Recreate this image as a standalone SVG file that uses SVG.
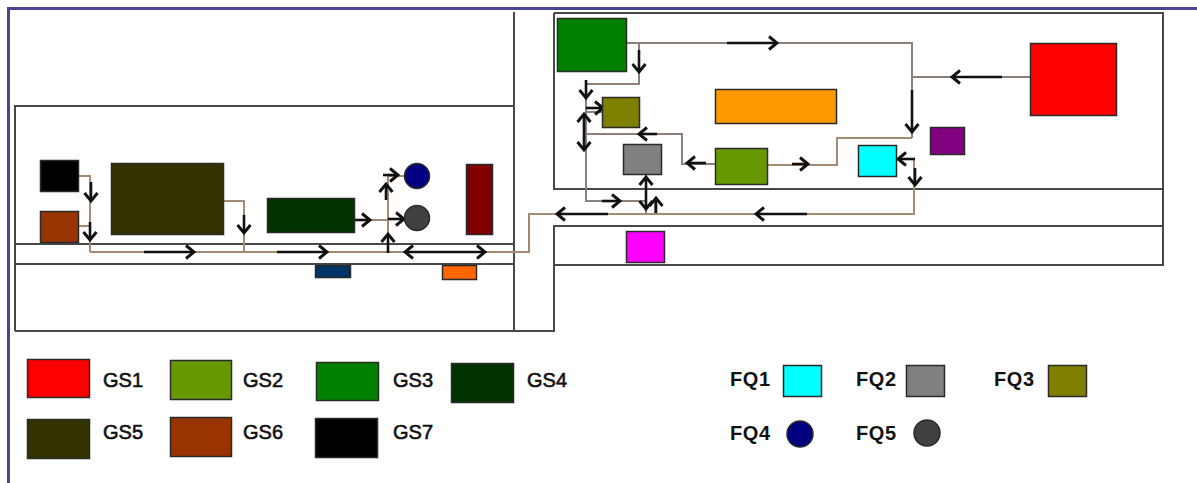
<svg xmlns="http://www.w3.org/2000/svg" width="1197" height="483" viewBox="0 0 1197 483">
<style>
.frame{fill:none;stroke:#4b4590;stroke-width:3}
.wall{fill:none;stroke:#484848;stroke-width:2}
.pipe{fill:none;stroke:#a38a72;stroke-width:2}
.pipe2{fill:none;stroke:#8c8078;stroke-width:2}
.arrow{fill:none;stroke:#111;stroke-width:2.6;marker-end:url(#head)}
.both{marker-start:url(#head)}
.box{stroke:#2a2a2a;stroke-width:1.5}
.lbl{font-family:"Liberation Sans",Arial,sans-serif;font-size:20px;fill:#111;stroke:#111;stroke-width:.6}
.fq{font-weight:bold;font-size:20px;letter-spacing:.6px;stroke:none}
</style>
<defs>
<marker id="head" markerUnits="userSpaceOnUse" markerWidth="16" markerHeight="18" refX="11" refY="8" orient="auto-start-reverse">
<path d="M3 1.500L11 8L3 14.500" fill="none" stroke="#111" stroke-width="2.900"/>
</marker>
</defs>
<rect width="1197" height="483" fill="#fff"/>
<path class="frame" d="M1197 8.500H8.500V483"/>
<g id="walls">
<path class="wall" d="M514 12V331M15 331V106H514M15 244H514M15 264H514M15 331H554V226H1163M554 13H1163V265H554M554 13V189H1163"/>
</g>
<g id="connectors">
<path class="pipe" d="M79 176H90V252M79 226H90M224 201H244V252M90 252H529V214H914V158M355 220H388M388 252V176H404M388 219H404"/>
<path class="pipe2" d="M627 43H912V138M1030 77H912M639 43V84H586V201H646V214M586 112H602M715 164H682V134H586M655 200V214M646 175V201"/>
<path class="pipe" d="M912 138H837V165H768M914 159H897M530 214H914"/>
<path class="arrow" d="M91 182V201"/>
<path class="arrow" d="M90 222V240"/>
<path class="arrow" d="M244 215V233"/>
<path class="arrow" d="M144 252H194"/>
<path class="arrow" d="M277 252H327"/>
<path class="arrow" d="M355 220H370"/>
<path class="arrow" d="M388 253V234"/>
<path class="arrow" d="M386 200V184"/>
<path class="arrow" d="M383 175H398"/>
<path class="arrow" d="M388 219H404"/>
<path class="arrow both" d="M405 252H485"/>
<path class="arrow" d="M727 43H777"/>
<path class="arrow" d="M639 50V72"/>
<path class="arrow" d="M586 80V98"/>
<path class="arrow" d="M586 108H603"/>
<path class="arrow both" d="M584 114V150"/>
<path class="arrow" d="M657 134H639"/>
<path class="arrow" d="M706 163H687"/>
<path class="arrow" d="M792 164H808"/>
<path class="arrow" d="M602 201H620"/>
<path class="arrow both" d="M646 177V209"/>
<path class="arrow" d="M656 213V198"/>
<path class="arrow" d="M608 214H557"/>
<path class="arrow" d="M807 214H756"/>
<path class="arrow" d="M1002 77H952"/>
<path class="arrow" d="M912 90V132"/>
<path class="arrow" d="M915 159H898"/>
<path class="arrow" d="M915 168V185"/>
</g>
<g id="plan-gs7"><rect class="box" x="40.500" y="160.500" width="38" height="31" fill="#000"/></g>
<g id="plan-gs6"><rect class="box" x="40.500" y="211.500" width="38" height="31" fill="#993300"/></g>
<g id="plan-gs5"><rect class="box" x="111.500" y="163.500" width="112" height="71" fill="#333300"/></g>
<g id="plan-gs4"><rect class="box" x="267.500" y="198.500" width="87" height="34" fill="#003300"/></g>
<g id="plan-fq4"><circle class="box" cx="417" cy="176" r="12.500" fill="#000080"/></g>
<g id="plan-fq5"><circle class="box" cx="417" cy="218" r="12.500" fill="#404040"/></g>
<g id="plan-darkred"><rect class="box" x="466.500" y="164.500" width="26" height="70" fill="#800000"/></g>
<g id="plan-navy"><rect class="box" x="315.500" y="265.500" width="35" height="12" fill="#003366"/></g>
<g id="plan-orange-small"><rect class="box" x="442.500" y="265.500" width="34" height="14" fill="#ff6600"/></g>
<g id="plan-gs3"><rect class="box" x="557.500" y="18.500" width="69" height="53" fill="#008000"/></g>
<g id="plan-fq3"><rect class="box" x="602.500" y="97.500" width="37" height="30" fill="#808000"/></g>
<g id="plan-orange"><rect class="box" x="715.500" y="89.500" width="121" height="34" fill="#ff9900"/></g>
<g id="plan-fq2"><rect class="box" x="623.500" y="144.500" width="38" height="30" fill="#808080"/></g>
<g id="plan-gs2"><rect class="box" x="715.500" y="148.500" width="52" height="36" fill="#669900"/></g>
<g id="plan-fq1"><rect class="box" x="858.500" y="145.500" width="38" height="31" fill="#00ffff"/></g>
<g id="plan-purple"><rect class="box" x="930.500" y="127.500" width="34" height="27" fill="#800080"/></g>
<g id="plan-gs1"><rect class="box" x="1030.500" y="43.500" width="86" height="72" fill="#ff0000"/></g>
<g id="plan-magenta"><rect class="box" x="626.500" y="231.500" width="38" height="31" fill="#ff00ff"/></g>
<g id="legend-gs1"><rect class="box" x="27.500" y="359.500" width="62" height="38" fill="#ff0000"/><text class="lbl" x="103" y="387">GS1</text></g>
<g id="legend-gs2"><rect class="box" x="170.500" y="360.500" width="61" height="39" fill="#669900"/><text class="lbl" x="243" y="387">GS2</text></g>
<g id="legend-gs3"><rect class="box" x="316.500" y="362.500" width="62" height="38" fill="#008000"/><text class="lbl" x="393" y="387">GS3</text></g>
<g id="legend-gs4"><rect class="box" x="451.500" y="363.500" width="62" height="39" fill="#003300"/><text class="lbl" x="527" y="387">GS4</text></g>
<g id="legend-gs5"><rect class="box" x="27.500" y="419.500" width="62" height="39" fill="#333300"/><text class="lbl" x="103" y="439">GS5</text></g>
<g id="legend-gs6"><rect class="box" x="170.500" y="417.500" width="61" height="39" fill="#993300"/><text class="lbl" x="243" y="439">GS6</text></g>
<g id="legend-gs7"><rect class="box" x="315.500" y="418.500" width="62" height="39" fill="#000"/><text class="lbl" x="393" y="439">GS7</text></g>
<g id="legend-fq1"><text class="lbl fq" x="730" y="386">FQ1</text><rect class="box" x="783.500" y="365.500" width="38" height="31" fill="#00ffff"/></g>
<g id="legend-fq2"><text class="lbl fq" x="856" y="386">FQ2</text><rect class="box" x="906.500" y="365.500" width="38" height="31" fill="#808080"/></g>
<g id="legend-fq3"><text class="lbl fq" x="994" y="386">FQ3</text><rect class="box" x="1048.500" y="365.500" width="38" height="31" fill="#808000"/></g>
<g id="legend-fq4"><text class="lbl fq" x="730" y="440">FQ4</text><circle class="box" cx="800" cy="434" r="13" fill="#000080"/></g>
<g id="legend-fq5"><text class="lbl fq" x="856" y="440">FQ5</text><circle class="box" cx="927" cy="433" r="13" fill="#404040"/></g>
</svg>
